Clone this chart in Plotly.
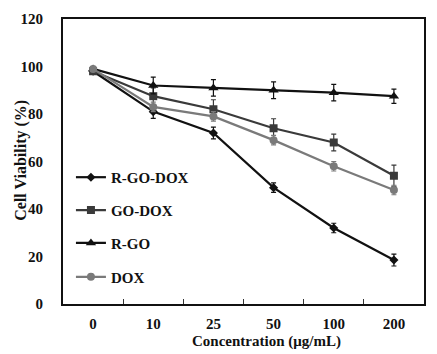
import plotly.graph_objects as go

concentrations = ["0", "10", "25", "50", "100", "200"]
series_names = ["R-GO-DOX", "GO-DOX", "R-GO", "DOX"]
r_go_dox = [98, 81, 72, 49, 32, 18.5]
go_dox = [98, 87.5, 82, 74, 68, 54]
r_go = [99, 92, 91, 90, 89, 87.5]
dox = [99, 83, 79, 69, 58, 48]
r_go_dox_err = [1, 2.8, 2.5, 2, 2, 2.5]
go_dox_err = [1, 3.5, 4, 4, 3.5, 4.5]
r_go_err = [1, 3.5, 3.5, 3.5, 3.5, 3]
dox_err = [1, 2, 2, 2, 2, 2]
x_title = "Concentration (μg/mL)"
y_title = "Cell Viability (%)"

values = [r_go_dox, go_dox, r_go, dox]
errors = [r_go_dox_err, go_dox_err, r_go_err, dox_err]
colors = ["#111111", "#3a3a3a", "#111111", "#7a7a7a"]
symbols = ["diamond", "square", "triangle-up", "circle"]
msizes = [7, 8, 9, 8]

FONT = "Liberation Serif"

fig = go.Figure()
legend_ids = ["legend", "legend2", "legend3", "legend4"]
for i, name in enumerate(series_names):
    fig.add_trace(go.Scatter(
        x=concentrations, y=values[i], name=name, mode="lines+markers",
        line=dict(color=colors[i], width=2.2),
        marker=dict(symbol=symbols[i], size=msizes[i], color=colors[i]),
        error_y=dict(type="data", array=errors[i], visible=True,
                     color=colors[i], thickness=1.2, width=2.5),
        legend=legend_ids[i],
    ))

legend_y_px = [177, 210, 243, 277]
plot_top, plot_bottom = 18, 304
plot_left, plot_right = 63, 426
pw = plot_right - plot_left
ph = plot_bottom - plot_top
layout_legends = {}
for i, lid in enumerate(legend_ids):
    ypaper = (plot_bottom - legend_y_px[i]) / ph
    layout_legends[lid] = dict(
        x=0.022, y=ypaper, xanchor="left", yanchor="middle",
        bgcolor="rgba(0,0,0,0)", borderwidth=0,
        font=dict(family=FONT, size=15, color="#111111", weight="bold"),
        itemwidth=30,
    )

fig.update_layout(
    width=437, height=354,
    margin=dict(l=plot_left, r=437 - plot_right, t=plot_top, b=354 - plot_bottom),
    paper_bgcolor="white", plot_bgcolor="white",
    showlegend=True,
    font=dict(family=FONT, size=15, color="#111111", weight="bold"),
    **layout_legends,
)

fig.add_annotation(
    text=x_title, xref="paper", yref="paper",
    x=(268 - plot_left) / pw, y=(plot_bottom - 342) / ph,
    xanchor="center", yanchor="middle", showarrow=False,
    font=dict(family=FONT, size=15, color="#111111", weight="bold"),
)
fig.add_annotation(
    text=y_title, xref="paper", yref="paper",
    x=(20 - plot_left) / pw, y=(plot_bottom - 160) / ph,
    xanchor="center", yanchor="middle", showarrow=False, textangle=-90,
    font=dict(family=FONT, size=16, color="#111111", weight="bold"),
)

fig.update_xaxes(
    type="category", range=[-0.5, 5.5],
    showline=True, linecolor="#111111", linewidth=2, mirror=True,
    ticks="inside", ticklen=5, tickwidth=1, tickcolor="#333333",
    tickson="boundaries", showgrid=False, zeroline=False,
    tickfont=dict(family=FONT, size=15, weight="bold"),
    ticklabelstandoff=5,
)
fig.update_yaxes(
    range=[0, 120], tickvals=[0, 20, 40, 60, 80, 100, 120],
    showline=True, linecolor="#111111", linewidth=2, mirror=True,
    ticks="", showgrid=False, zeroline=False,
    tickfont=dict(family=FONT, size=15, weight="bold"),
    ticklabelstandoff=15,
)

fig.write_html("out.html")
